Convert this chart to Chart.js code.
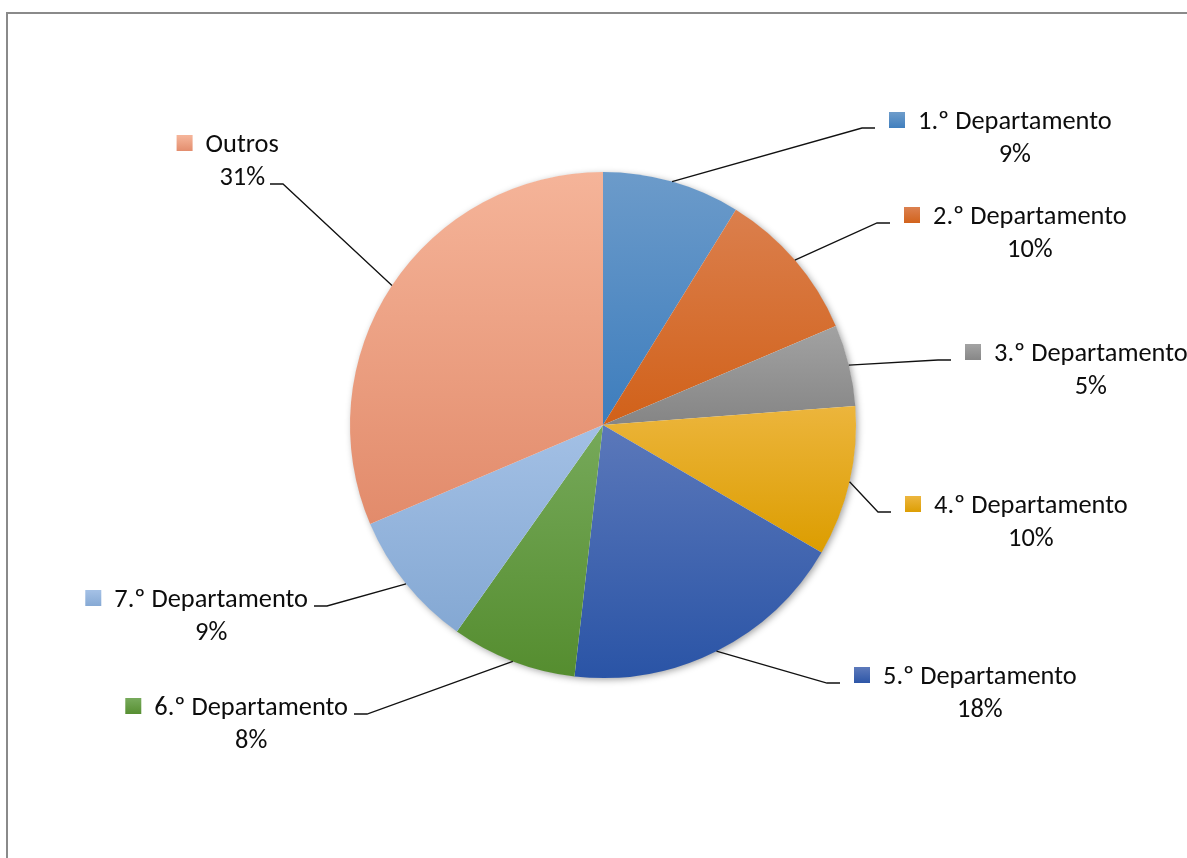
<!DOCTYPE html>
<html>
<head>
<meta charset="utf-8">
<script src="https://cdn.jsdelivr.net/npm/chart.js@4.4.1/dist/chart.umd.min.js"></script>
<style>
  html, body { margin: 0; padding: 0; background: #ffffff; }
  #wrap { position: relative; width: 1187px; height: 858px; }
</style>
</head>
<body>
<div id="wrap"><canvas id="c" width="1187" height="858"></canvas></div>
<script>
// ---- data ----
const categories = ['1.º Departamento', '2.º Departamento', '3.º Departamento', '4.º Departamento',
                    '5.º Departamento', '6.º Departamento', '7.º Departamento', 'Outros'];
const shares = [8.8, 9.8, 5.2, 9.6, 18.4, 8.0, 8.8, 31.4];

// ---- style ----
const topColors    = ['#6c9bca', '#db7f4d', '#a2a2a2', '#ecb53c', '#5b78ba', '#76a95a', '#a3c0e5', '#f5b499'];
const bottomColors = ['#3d7dbd', '#d16119', '#858585', '#dc9d00', '#2a54a6', '#558d2f', '#84a8d3', '#e28b6b'];
const FONT_FAMILY = 'Carlito, Calibri, Lato, "Liberation Sans", sans-serif';
// leader elbow offsets from pie centre (px)
const leaderElbows = [[259,-297],[274,-202],[335,-65],[275,87],[224,258],[-236,289],[-276,181],[-320,-241]];
const attachTo = ['name','name','name','name','name','name','name','pct'];

function sliceBounds(chart, i) {
  const a = chart.chartArea;
  const cx = (a.left + a.right) / 2, cy = (a.top + a.bottom) / 2;
  const r = Math.min(a.right - a.left, a.bottom - a.top) / 2;
  const data = chart.data.datasets[0].data;
  const total = data.reduce((s, v) => s + v, 0);
  let cum = 0;
  for (let k = 0; k < i; k++) cum += data[k];
  const a0 = -Math.PI / 2 + 2 * Math.PI * cum / total;
  const a1 = -Math.PI / 2 + 2 * Math.PI * (cum + data[i]) / total;
  const ys = [cy, cy + r * Math.sin(a0), cy + r * Math.sin(a1)];
  if (a0 <= -Math.PI / 2 + 1e-6) ys.push(cy - r);
  if (a1 >= 1.5 * Math.PI - 1e-6) ys.push(cy - r);
  if (a0 <= Math.PI / 2 && a1 >= Math.PI / 2) ys.push(cy + r);
  return [Math.min(...ys), Math.max(...ys)];
}

function sliceFill(ctx) {
  const chart = ctx.chart;
  const i = ctx.dataIndex;
  if (ctx.type !== 'data' || !chart.chartArea) return topColors[i] || '#999';
  const [y0, y1] = sliceBounds(chart, i);
  const g = chart.ctx.createLinearGradient(0, y0, 0, y1);
  g.addColorStop(0, topColors[i]);
  g.addColorStop(1, bottomColors[i]);
  return g;
}

const framePlugin = {
  id: 'frame',
  beforeDraw(chart) {
    const c = chart.ctx;
    c.save();
    c.strokeStyle = '#8a8a8a';
    c.lineWidth = 2;
    c.strokeRect(7, 13, 1300, 1000);
    c.restore();
  },
  beforeDatasetsDraw(chart) {
    const a = chart.chartArea;
    const cx = (a.left + a.right) / 2, cy = (a.top + a.bottom) / 2;
    const r = Math.min(a.right - a.left, a.bottom - a.top) / 2;
    const c = chart.ctx;
    c.save();
    c.shadowColor = 'rgba(0,0,0,0.38)';
    c.shadowBlur = 7;
    c.shadowOffsetX = 2;
    c.shadowOffsetY = 2;
    c.fillStyle = '#ffffff';
    c.beginPath();
    c.arc(cx, cy, r - 0.5, 0, Math.PI * 2);
    c.fill();
    c.restore();
  }
};

const labelPlugin = {
  id: 'outLabels',
  afterDatasetsDraw(chart) {
    const c = chart.ctx;
    const meta = chart.getDatasetMeta(0);
    const data = chart.data.datasets[0].data;
    const total = data.reduce((s, v) => s + v, 0);
    const a = chart.chartArea;
    const cx = (a.left + a.right) / 2, cy = (a.top + a.bottom) / 2;
    // fit font so that a department name is ~194px wide
    c.save();
    c.font = '100px ' + FONT_FAMILY;
    const size = Math.round(100 * 194 / c.measureText(categories[0]).width * 10) / 10;
    const font = size + 'px ' + FONT_FAMILY;
    c.font = font;
    c.textBaseline = 'middle';
    meta.data.forEach((arc, i) => {
      const mid = (arc.startAngle + arc.endAngle) / 2;
      const R = arc.outerRadius;
      const px = arc.x + R * Math.cos(mid), py = arc.y + R * Math.sin(mid);
      const ex = cx + leaderElbows[i][0], ey = cy + leaderElbows[i][1];
      const right = leaderElbows[i][0] > 0;
      const endX = ex + (right ? 13 : -13);
      c.strokeStyle = '#111111';
      c.lineWidth = 1.3;
      c.beginPath();
      c.moveTo(px, py);
      c.lineTo(ex, ey);
      c.lineTo(endX, ey);
      c.stroke();

      const name = chart.data.labels[i];
      const pct = Math.round(data[i] / total * 100) + '%';
      const wName = c.measureText(name).width;
      const wPct = c.measureText(pct).width;
      let nameY, pctY, nameLeft;
      if (attachTo[i] === 'pct') {
        pctY = ey - 7; nameY = pctY - 33;
        const pctCenter = endX - 5 - wPct / 2;
        nameLeft = pctCenter - wName / 2;
      } else {
        nameY = ey - 7; pctY = nameY + 33;
        nameLeft = right ? endX + 13 + 30 : endX - 6 - wName;
      }
      const markerRight = nameLeft - 13;
      const mg = c.createLinearGradient(0, nameY - 8, 0, nameY + 8);
      mg.addColorStop(0, topColors[i]);
      mg.addColorStop(1, bottomColors[i]);
      c.fillStyle = mg;
      c.fillRect(markerRight - 16, nameY - 9, 16, 16);
      c.fillStyle = '#0d0d0d';
      c.textAlign = 'left';
      c.fillText(name, nameLeft, nameY + 1.5);
      c.textAlign = 'center';
      c.fillText(pct, nameLeft + wName / 2, pctY + 1.5);
    });
    c.restore();
  }
};

new Chart(document.getElementById('c'), {
  type: 'pie',
  data: {
    labels: categories,
    datasets: [{
      data: shares,
      backgroundColor: sliceFill,
      borderWidth: 0
    }]
  },
  options: {
    responsive: false,
    animation: false,
    events: [],
    layout: { padding: { left: 350, right: 331, top: 172, bottom: 180 } },
    plugins: { legend: { display: false }, tooltip: { enabled: false }, title: { display: false } }
  },
  plugins: [framePlugin, labelPlugin]
});
</script>
</body>
</html>
